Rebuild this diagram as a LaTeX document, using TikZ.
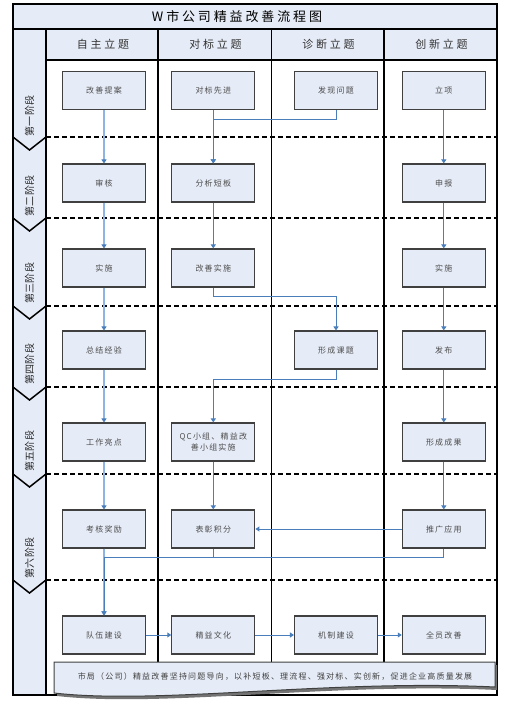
\documentclass[tikz,border=0pt]{standalone}
\usepackage{fontspec}
\setmainfont{Liberation Serif}
\newfontfamily\titlefont[LetterSpace=22]{Noto Sans CJK SC}
\newfontfamily\headfont[LetterSpace=25]{Noto Sans CJK SC}
\newfontfamily\boxfont[LetterSpace=15]{Noto Sans CJK SC}
\newfontfamily\lanefont[LetterSpace=3]{Noto Sans CJK SC}
\usetikzlibrary{arrows.meta}
\definecolor{fillb}{HTML}{E6ECF7}
\definecolor{lineb}{HTML}{4A7EBB}
\definecolor{lightb}{HTML}{8EB4E3}
\definecolor{boxd}{HTML}{404040}
\tikzset{
  stagebox/.style={draw=boxd, line width=1.1pt, fill=fillb, minimum width=83pt, minimum height=38pt,
    inner sep=1pt, align=center, text=black!70, font={\boxfont\fontsize{8}{11}\selectfont}},
  conn/.style={draw=lineb, line width=1pt, -{Triangle[length=4pt,width=5pt]}},
  connplain/.style={draw=lineb, line width=1pt},
  connlight/.style={draw=lightb, line width=1.5pt, -{Triangle[length=4pt,width=5pt,color=lineb]}},
  phaseline/.style={draw=black, line width=2pt, dash pattern=on 5pt off 3pt},
  frameline/.style={draw=black, line width=1.2pt},
  headtext/.style={text=black!80, font={\headfont\fontsize{11}{13}\selectfont}},
  lanetext/.style={rotate=90, anchor=west, inner sep=0pt, text=black!85, font={\lanefont\fontsize{10}{12}\selectfont}},
}
\begin{document}
\begin{tikzpicture}[x=1pt,y=-1pt]
\useasboundingbox (0,0) rectangle (532,701);
% title bar and header row
\fill[fillb] (13,4) rectangle (497,29);
\fill[fillb] (46,29) rectangle (497,60);
\draw[frameline] (13,4) rectangle (497,29);
\draw[frameline] (46,60) -- (497,60);
\node[text=black, font={\titlefont\fontsize{13}{15}\selectfont}] (title) at (237,16.5) {W市公司精益改善流程图};
\node[headtext] (h1) at (103,44.5) {自主立题};
\node[headtext] (h2) at (215.5,44.5) {对标立题};
\node[headtext] (h3) at (328.5,44.5) {诊断立题};
\node[headtext] (h4) at (441.5,44.5) {创新立题};
% column dividers
\draw[frameline] (158,29) -- (158,662);
\draw[frameline] (271.5,29) -- (271.5,662);
\draw[frameline] (384,29) -- (384,662);
% lane column
\draw[fill=fillb, line width=1.3pt] (13,29) rectangle (46,695);
\foreach \yy in {137,218,306,387,474,580}{
  \draw[line width=1.5pt, line join=miter] (13,\yy) -- (29.5,\yy+13) -- (46,\yy);
  \draw[phaseline] (46,\yy) -- (497,\yy);
}
\node[lanetext] (p1) at (29.5,136.5) {第一阶段};
\node[lanetext] (p2) at (29.5,216.5) {第二阶段};
\node[lanetext] (p3) at (29.5,304) {第三阶段};
\node[lanetext] (p4) at (29.5,385) {第四阶段};
\node[lanetext] (p5) at (29.5,472) {第五阶段};
\node[lanetext] (p6) at (29.5,578.5) {第六阶段};
% outer frame
\draw[frameline] (13,4) rectangle (497,695);
% boxes
\node[stagebox] (a1) at (104,90.5) {改善提案};
\node[stagebox] (b1) at (213.3,90.5) {对标先进};
\node[stagebox] (c1) at (336,90.5) {发现问题};
\node[stagebox] (d1) at (443.8,90.5) {立项};
\node[stagebox] (a2) at (104,183) {审核};
\node[stagebox] (b2) at (213.3,183) {分析短板};
\node[stagebox] (d2) at (443.8,183) {申报};
\node[stagebox] (a3) at (104,268) {实施};
\node[stagebox] (b3) at (213.3,268) {改善实施};
\node[stagebox] (d3) at (443.8,268) {实施};
\node[stagebox] (a4) at (104,350) {总结经验};
\node[stagebox] (c4) at (336,350) {形成课题};
\node[stagebox] (d4) at (443.8,350) {发布};
\node[stagebox] (a5) at (104,442) {工作亮点};
\node[stagebox] (b5) at (213.3,442) {QC小组、精益改\\善小组实施};
\node[stagebox] (d5) at (443.8,442) {形成成果};
\node[stagebox] (a6) at (104,529) {考核奖励};
\node[stagebox] (b6) at (213.3,529) {表彰积分};
\node[stagebox] (d6) at (443.8,529) {推广应用};
\node[stagebox] (a7) at (104,635) {队伍建设};
\node[stagebox] (b7) at (213.3,635) {精益文化};
\node[stagebox] (c7) at (336,635) {机制建设};
\node[stagebox] (d7) at (443.8,635) {全员改善};
% connectors column 1
\draw[connlight] (a1) -- (a2);
\draw[connlight] (a2) -- (a3);
\draw[connlight] (a3) -- (a4);
\draw[connlight] (a4) -- (a5);
\draw[connlight] (a5) -- (a6);
\draw[connlight] (a6) -- (a7);
% column 2 / 3
\draw[conn] (b1) -- (b2);
\draw[conn] (c1.south) -- ++(0,9.5) -| (b2.north);
\draw[conn] (b2) -- (b3);
\draw[conn] (b3.south) -- ++(0,8.5) -| (c4.north);
\draw[conn] (c4.south) -- ++(0,9.5) -| (b5.north);
\draw[conn] (b5) -- (b6);
% column 4
\draw[conn] (d1) -- (d2);
\draw[conn] (d2) -- (d3);
\draw[conn] (d3) -- (d4);
\draw[conn] (d4) -- (d5);
\draw[conn] (d5) -- (d6);
\draw[conn] (d6) -- (b6);
\coordinate (j6) at (104,557.5);
\draw[conn] (d6.south) -- ++(0,9) -| (a7.north);
\draw[connplain] (b6.south) -- (b6.south |- j6);
% bottom row
\draw[conn] (a7) -- (b7);
\draw[conn] (b7) -- (c7);
\draw[conn] (c7) -- (d7);
% banner with shadow
\fill[black!55] (57,665) -- (497,665) -- (497,690)
  .. controls (333,682) and (163,708) .. (57,696) -- cycle;
\draw[draw=boxd, fill=fillb, line width=1pt] (54,662) -- (495,662) -- (495,687)
  .. controls (330,679) and (160,705) .. (54,693) -- cycle;
\node[text=black!75, font={\boxfont\fontsize{8}{10}\selectfont}] (banner) at (275,676) {市局（公司）精益改善坚持问题导向，以补短板、理流程、强对标、实创新，促进企业高质量发展};
\end{tikzpicture}
\end{document}
